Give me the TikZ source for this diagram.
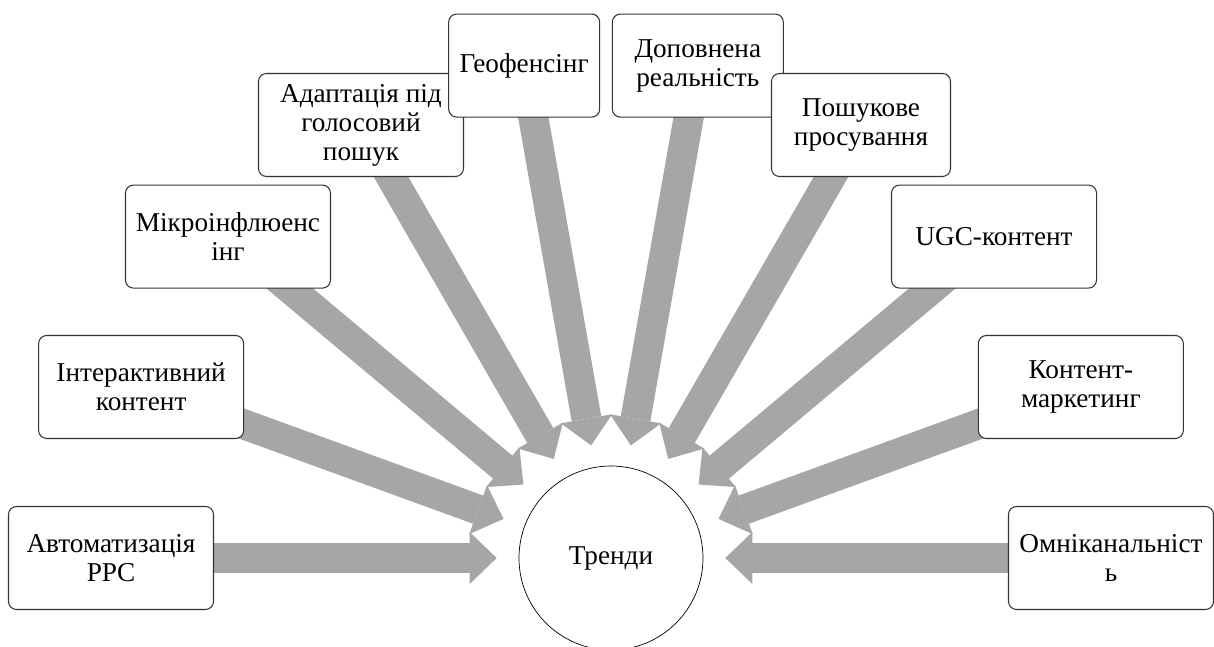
\documentclass[tikz,border=0pt]{standalone}
\usepackage{fontspec}
\setmainfont{LiberationSerif}[Extension = .ttf, UprightFont = *-Regular, BoldFont = *-Bold]
\usetikzlibrary{arrows.meta, backgrounds}

\definecolor{arrowgray}{HTML}{A6A6A6}

\begin{document}
\begin{tikzpicture}[
        font = \fontsize{15.5}{16.5}\selectfont,
        trend/.style = {circle, draw = black, thin, fill = white, minimum size = 3.68cm},
        item/.style = {draw = black!80, line width = 0.6pt, fill = white, rounded corners = 0.16cm,
                       align = center, minimum width = 4.1cm, minimum height = 2.06cm, inner sep = 1pt},
        flow/.style = {color = arrowgray, line width = 0.6cm, shorten >= 0.44cm,
                       -{Triangle[width = 1.04cm, length = 0.54cm, line width = 0pt, color = arrowgray, fill = arrowgray]}}
    ]

      \useasboundingbox (-12.22,-1.76) rectangle (12.06,11.16);

      \node[trend] (trend) at (0,0) {Тренди};

      \node[item] (t_0) at (180:10) {Автоматизація\\PPC};
      \node[item] (t_1) at (160:10) {Інтерактивний\\контент};
      \node[item] (t_2) at (140:10) {Мікроінфлюенс\\інг};
      \node[item] (t_3) at (120:10) {Адаптація під\\голосовий\\пошук};
      \node[item, minimum width = 3.02cm] (t_4) at (100:10) {Геофенсінг};
      \node[item, minimum width = 3.42cm] (t_5) at (80:10)  {Доповнена\\реальність};
      \node[item, minimum width = 3.58cm] (t_6) at (60:10)  {Пошукове\\просування};
      \node[item] (t_7) at (40:10)  {UGC-контент};
      \node[item] (t_8) at (20:10)  {Контент-\\маркетинг};
      \node[item] (t_9) at (0:10)   {Омніканальніст\\ь};

      \begin{scope}[on background layer]
        \path[flow] (t_0.center) edge (trend)
                    (t_1.center) edge (trend)
                    (t_2.center) edge (trend)
                    (t_3.center) edge (trend)
                    (t_4.center) edge (trend)
                    (t_5.center) edge (trend)
                    (t_6.center) edge (trend)
                    (t_7.center) edge (trend)
                    (t_8.center) edge (trend)
                    (t_9.center) edge (trend);
      \end{scope}

    \end{tikzpicture}
\end{document}
